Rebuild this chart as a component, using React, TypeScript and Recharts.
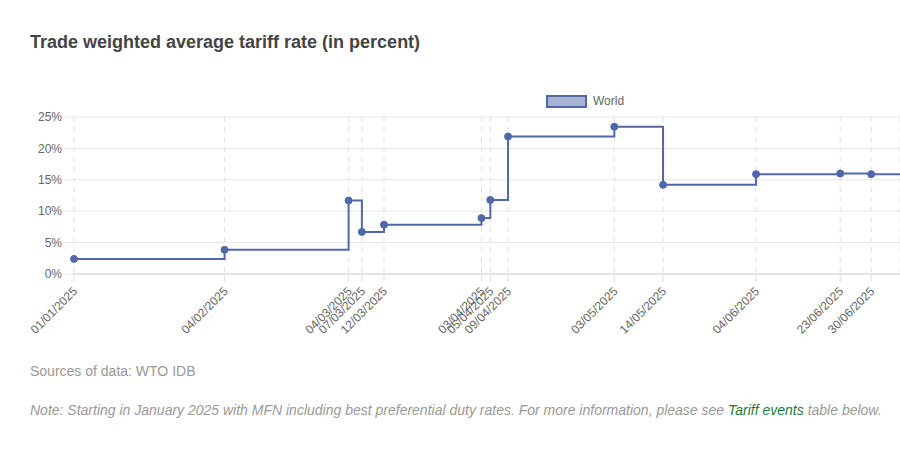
import { LineChart, Line, XAxis, YAxis, CartesianGrid } from "recharts"

// step dates (dd/mm/yyyy on the axis); the last one lies past the visible window
const dates = [
  "2025-01-01", "2025-02-04", "2025-03-04", "2025-03-07", "2025-03-12",
  "2025-04-03", "2025-04-05", "2025-04-09", "2025-05-03", "2025-05-14",
  "2025-06-04", "2025-06-23", "2025-06-30", "2025-07-14",
]
const world = [2.4, 3.85, 11.7, 6.7, 7.85, 8.9, 11.8, 21.9, 23.45, 14.2, 15.9, 16.0, 15.9, 15.9]
const tickDates = dates.slice(0, 13)
const yTicks = [0, 5, 10, 15, 20, 25]

const DAY = 86400000
const START = Date.UTC(2025, 0, 1)
const toDay = (s: string) => (Date.parse(s + "T00:00:00Z") - START) / DAY
const fmtDay = (t: number) => {
  const d = new Date(START + t * DAY)
  const dd = String(d.getUTCDate()).padStart(2, "0")
  const mm = String(d.getUTCMonth() + 1).padStart(2, "0")
  return `${dd}/${mm}/${d.getUTCFullYear()}`
}

const data = dates.map((d, i) => ({ t: toDay(d), world: world[i] }))
const xTicks = tickDates.map(toDay)

const LINE = "#5068a9"
const FONT = '"Liberation Sans", Arial, Helvetica, sans-serif'

function DateTick({ x, y, payload }: any) {
  return (
    <g transform={`translate(${x - 2},${y + 2})`}>
      <text
        transform="rotate(-45)"
        textAnchor="end"
        dy="0.71em"
        fill="#666"
        fontSize={12}
        fontFamily={FONT}
      >
        {fmtDay(payload.value)}
      </text>
    </g>
  )
}

export default function App() {
  return (
    <div
      style={{
        position: "absolute",
        left: 0,
        top: 0,
        width: 900,
        height: 449,
        background: "#fff",
        fontFamily: FONT,
        overflow: "hidden",
      }}
    >
      <div
        style={{
          position: "absolute",
          left: 30,
          top: 33,
          fontSize: 18,
          lineHeight: "18px",
          fontWeight: "bold",
          color: "#444",
          whiteSpace: "nowrap",
        }}
      >
        Trade weighted average tariff rate (in percent)
      </div>

      {/* legend */}
      <div
        style={{
          position: "absolute",
          left: 546,
          top: 94,
          display: "flex",
          alignItems: "center",
          fontSize: 12,
          color: "#666",
        }}
      >
        <span
          style={{
            display: "inline-block",
            width: 37,
            height: 9,
            background: "rgba(80,104,169,0.5)",
            border: `2px solid ${LINE}`,
            marginRight: 6,
          }}
        />
        World
      </div>

      <div style={{ position: "absolute", left: 0, top: 0 }}>
        <LineChart
          width={900}
          height={449}
          data={data}
          margin={{ top: 117, right: 0, bottom: 115, left: 34 }}
        >
          <CartesianGrid horizontal vertical={false} stroke="#e6e6e6" />
          <CartesianGrid horizontal={false} vertical stroke="#e0e0e0" strokeDasharray="5 5" />
          <XAxis
            dataKey="t"
            type="number"
            domain={[0, 186.5]}
            allowDataOverflow
            ticks={xTicks}
            interval={0}
            tickFormatter={fmtDay}
            height={60}
            tickSize={8}
            tickMargin={2}
            tickLine={{ stroke: "#e0e0e0" }}
            axisLine={{ stroke: "#d4d4d4" }}
            tick={<DateTick />}
          />
          <YAxis
            type="number"
            domain={[0, 25]}
            ticks={yTicks}
            width={40}
            tickSize={9}
            tickMargin={3}
            tickLine={{ stroke: "#e6e6e6" }}
            axisLine={false}
            tickFormatter={(v: number) => `${v}%`}
            tick={{ fill: "#666", fontSize: 12, fontFamily: FONT }}
          />
          <Line
            type="stepAfter"
            dataKey="world"
            name="World"
            stroke={LINE}
            strokeWidth={2}
            dot={{ r: 3.5, fill: LINE, stroke: LINE, strokeWidth: 1, clipDot: false }}
            activeDot={false}
            isAnimationActive={false}
          />
        </LineChart>
      </div>

      <div
        style={{
          position: "absolute",
          left: 30,
          top: 364,
          fontSize: 14,
          lineHeight: "14px",
          color: "#999",
          whiteSpace: "nowrap",
        }}
      >
        Sources of data: WTO IDB
      </div>
      <div
        style={{
          position: "absolute",
          left: 30,
          top: 403,
          fontSize: 14,
          lineHeight: "14px",
          color: "#999",
          fontStyle: "italic",
          whiteSpace: "nowrap",
        }}
      >
        Note: Starting in January 2025 with MFN including best preferential duty rates. For more
        information, please see <span style={{ color: "#1f7a3c" }}>Tariff events</span> table below.
      </div>
    </div>
  )
}
